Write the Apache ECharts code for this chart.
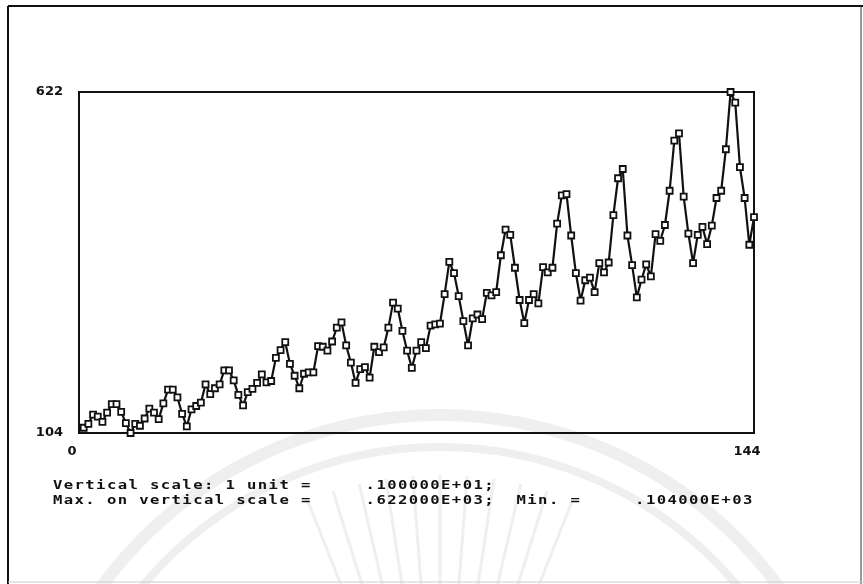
<!DOCTYPE html>
<html>
<head>
    <meta charset="utf-8">
    <title>Airline series</title>
    <script src="https://cdn.jsdelivr.net/npm/echarts@6.0.0/dist/echarts.min.js"></script>
    <style>
        html, body {
            margin: 0;
            padding: 0;
            background: #fff;
        }
        #chart {
            width: 863px;
            height: 584px;
        }
    </style>
</head>
<body>
<div id="chart"></div>
<script>
    // monthly values, 144 points (12 per year)
    var year1 = [112, 118, 132, 129, 121, 135, 148, 148, 136, 119, 104, 118];
    var year2 = [115, 126, 141, 135, 125, 149, 170, 170, 158, 133, 114, 140];
    var year3 = [145, 150, 178, 163, 172, 178, 199, 199, 184, 162, 146, 166];
    var year4 = [171, 180, 193, 181, 183, 218, 230, 242, 209, 191, 172, 194];
    var year5 = [196, 196, 236, 235, 229, 243, 264, 272, 237, 211, 180, 201];
    var year6 = [204, 188, 235, 227, 234, 264, 302, 293, 259, 229, 203, 229];
    var year7 = [242, 233, 267, 269, 270, 315, 364, 347, 312, 274, 237, 278];
    var year8 = [284, 277, 317, 313, 318, 374, 413, 405, 355, 306, 271, 306];
    var year9 = [315, 301, 356, 348, 355, 422, 465, 467, 404, 347, 305, 336];
    var year10 = [340, 318, 362, 348, 363, 435, 491, 505, 404, 359, 310, 337];
    var year11 = [360, 342, 406, 396, 420, 472, 548, 559, 463, 407, 362, 405];
    var year12 = [417, 391, 419, 461, 472, 535, 622, 606, 508, 461, 390, 432];

    var xTicks = [0, 144];
    var yTicks = [104, 622];

    var noteLine1 = 'Vertical scale: 1 unit =     .100000E+01;';
    var noteLine2 = 'Max. on vertical scale =     .622000E+03;  Min. =     .104000E+03';

    var values = [].concat(year1, year2, year3, year4, year5, year6,
        year7, year8, year9, year10, year11, year12);
    var points = [];
    for (var i = 0; i < values.length; i++) {
        points.push([i + 1, values[i]]);
    }

    // printer style text, one glyph per fixed cell
    var charW = 10.78;
    function printLine(str, x0, y) {
        var out = [];
        for (var k = 0; k < str.length; k++) {
            if (str[k] === ' ') continue;
            out.push({
                type: 'text',
                x: x0 + k * charW,
                y: y,
                scaleX: 1.3,
                style: {
                    text: str[k],
                    fill: '#111',
                    font: 'bold 12px "DejaVu Sans Mono"',
                    verticalAlign: 'middle'
                }
            });
        }
        return out;
    }

    // faint seal in the background of the scan
    var sealColor = '#efefef';
    var graphics = [
        { type: 'arc', z: -10, shape: { cx: 440, cy: 835, r: 420, startAngle: Math.PI * 1.08, endAngle: Math.PI * 1.92 }, style: { stroke: sealColor, fill: null, lineWidth: 12 } },
        { type: 'arc', z: -10, shape: { cx: 440, cy: 835, r: 388, startAngle: Math.PI * 1.12, endAngle: Math.PI * 1.88 }, style: { stroke: sealColor, fill: null, lineWidth: 8 } }
    ];
    for (var a = 0; a < 11; a++) {
        var ang = Math.PI * (1.38 + a * 0.024);
        graphics.push({
            type: 'line', z: -10,
            shape: {
                x1: 440 + 150 * Math.cos(ang), y1: 835 + 150 * Math.sin(ang),
                x2: 440 + 360 * Math.cos(ang), y2: 835 + 360 * Math.sin(ang)
            },
            style: { stroke: sealColor, lineWidth: 3 }
        });
    }

    // outer frame of the page
    graphics.push(
        { type: 'line', shape: { x1: 8, y1: 6, x2: 863, y2: 6 }, style: { stroke: '#111', lineWidth: 2 } },
        { type: 'line', shape: { x1: 8, y1: 6, x2: 8, y2: 584 }, style: { stroke: '#111', lineWidth: 2 } },
        { type: 'line', shape: { x1: 861, y1: 6, x2: 861, y2: 584 }, style: { stroke: '#333', lineWidth: 1 } },
        { type: 'line', shape: { x1: 8, y1: 582, x2: 863, y2: 582 }, style: { stroke: '#ccc', lineWidth: 1 } }
    );
    graphics = graphics.concat(printLine(noteLine1, 53, 486), printLine(noteLine2, 53, 501));

    var chart = echarts.init(document.getElementById('chart'));

    var option = {
        animation: false,
        backgroundColor: '#fff',
        grid: {
            left: 79,
            top: 92,
            right: 109,
            bottom: 151,
            show: true,
            borderColor: '#111',
            borderWidth: 2
        },
        xAxis: {
            type: 'value',
            min: 0,
            max: 144,
            axisLine: { show: true, lineStyle: { color: '#111', width: 2 } },
            axisTick: { show: false },
            splitLine: { show: false },
            axisLabel: {
                customValues: xTicks,
                color: '#111',
                fontFamily: 'DejaVu Sans',
                fontWeight: 'bold',
                fontSize: 13,
                margin: 12,
                padding: [0, 14, 0, 0]
            }
        },
        yAxis: {
            type: 'value',
            min: 104,
            max: 622,
            axisLine: { show: true, lineStyle: { color: '#111', width: 2 } },
            axisTick: { show: false },
            splitLine: { show: false },
            axisLabel: {
                customValues: yTicks,
                color: '#111',
                fontFamily: 'DejaVu Sans',
                fontWeight: 'bold',
                fontSize: 13,
                margin: 16,
                padding: [0, 0, 6, 0]
            }
        },
        series: [{
            type: 'line',
            data: points,
            symbol: 'rect',
            symbolSize: 6,
            showAllSymbol: true,
            lineStyle: { color: '#111', width: 2.2 },
            itemStyle: { color: '#fff', borderColor: '#111', borderWidth: 1.8 }
        }],
        graphic: graphics
    };

    chart.setOption(option);
</script>
</body>
</html>
